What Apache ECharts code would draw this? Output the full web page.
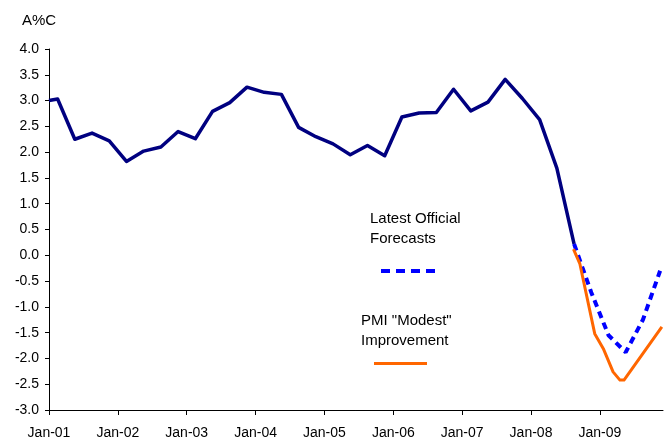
<!DOCTYPE html>
<html>
<head>
<meta charset="utf-8">
<script src="https://cdn.jsdelivr.net/npm/echarts@6/dist/echarts.min.js"></script>
<style>
html,body{margin:0;padding:0;background:#fff;}
#chart{width:669px;height:437px;}
</style>
</head>
<body>
<div id="chart"></div>
<script>
// x positions are months since Jan-01 (quarterly data plotted mid-quarter)
const tickLabels = ['Jan-01','Jan-02','Jan-03','Jan-04','Jan-05','Jan-06','Jan-07','Jan-08','Jan-09'];
const actualMonths = [0, 1.5, 4.5, 7.5, 10.5, 13.5, 16.5, 19.5, 22.5, 25.5, 28.5, 31.5, 34.5, 37.5, 40.5, 43.5, 46.5, 49.5, 52.5, 55.5, 58.5, 61.5, 64.5, 67.5, 70.5, 73.5, 76.5, 79.5, 82.5, 85.5, 88.5, 91.5];
const actualValues = [3.00, 3.03, 2.25, 2.37, 2.22, 1.82, 2.02, 2.10, 2.40, 2.26, 2.79, 2.96, 3.26, 3.16, 3.12, 2.48, 2.30, 2.16, 1.95, 2.13, 1.93, 2.68, 2.76, 2.77, 3.22, 2.80, 2.97, 3.41, 3.04, 2.63, 1.69, 0.22];
const officialMonths = [91.5, 94.5, 97.5, 100.5, 103.5, 106.5];
const officialValues = [0.22, -0.72, -1.55, -1.88, -1.25, -0.30];
const pmiMonths = [91.4, 92.5, 95.1, 96.6, 98.3, 99.5, 100.2, 106.8];
const pmiValues = [0.12, -0.16, -1.52, -1.81, -2.26, -2.42, -2.42, -1.39];
const officialLabel = 'Latest Official\nForecasts';
const pmiLabel = 'PMI "Modest"\nImprovement';
const unitLabel = 'A%C';

const zip = (xs, ys) => xs.map((x, i) => [x, ys[i]]);
const FONT = '"Liberation Sans", Arial, sans-serif';

const chart = echarts.init(document.getElementById('chart'), null, {renderer: 'canvas'});
chart.setOption({
  animation: false,
  backgroundColor: '#ffffff',
  title: {
    text: unitLabel, left: 22, top: 13, padding: 0,
    textStyle: {fontFamily: FONT, fontSize: 15, fontWeight: 'normal', color: '#000'}
  },
  grid: {left: 49, right: 6, top: 49, bottom: 27, containLabel: false, outerBoundsMode: 'none'},
  xAxis: {
    type: 'value', min: 0, max: 107,
    axisLine: {show: true, onZero: false, lineStyle: {color: '#000', width: 1}},
    axisTick: {show: true, length: 5, lineStyle: {color: '#000'}, customValues: tickLabels.map((_, i) => i * 12)},
    axisLabel: {
      customValues: tickLabels.map((_, i) => i * 12),
      formatter: v => tickLabels[Math.round(v / 12)] || '',
      margin: 16, fontFamily: FONT, fontSize: 14, color: '#000'
    },
    splitLine: {show: false}
  },
  yAxis: {
    type: 'value', min: -3, max: 4, interval: 0.5,
    axisLine: {show: true, onZero: false, lineStyle: {color: '#000', width: 1}},
    axisTick: {show: true, length: 4, lineStyle: {color: '#000'}},
    axisLabel: {formatter: v => v.toFixed(1), margin: 10, fontFamily: FONT, fontSize: 14, color: '#000'},
    splitLine: {show: false}
  },
  series: [
    {
      name: 'Actual', type: 'line', data: zip(actualMonths, actualValues),
      showSymbol: false, symbol: 'none',
      lineStyle: {color: '#000080', width: 3.5, join: 'round'}, z: 3
    },
    {
      name: 'Latest Official Forecasts', type: 'line', data: zip(officialMonths, officialValues),
      showSymbol: false, symbol: 'none',
      lineStyle: {color: '#0000ff', width: 4, type: [7, 5]}, z: 2
    },
    {
      name: 'PMI "Modest" Improvement', type: 'line', data: zip(pmiMonths, pmiValues),
      showSymbol: false, symbol: 'none',
      lineStyle: {color: '#ff6600', width: 3, join: 'round'}, z: 2
    }
  ],
  graphic: [
    {type: 'text', left: 370, top: 208.5, style: {text: officialLabel, font: '15px ' + FONT, lineHeight: 20, fill: '#000'}},
    {type: 'line', shape: {x1: 381, y1: 271, x2: 436, y2: 271}, style: {stroke: '#0000ff', lineWidth: 4, lineDash: [9, 6]}},
    {type: 'text', left: 361, top: 310.8, style: {text: pmiLabel, font: '15px ' + FONT, lineHeight: 20, fill: '#000'}},
    {type: 'line', shape: {x1: 374, y1: 363.5, x2: 427, y2: 363.5}, style: {stroke: '#ff6600', lineWidth: 3}}
  ]
});
</script>
</body>
</html>
